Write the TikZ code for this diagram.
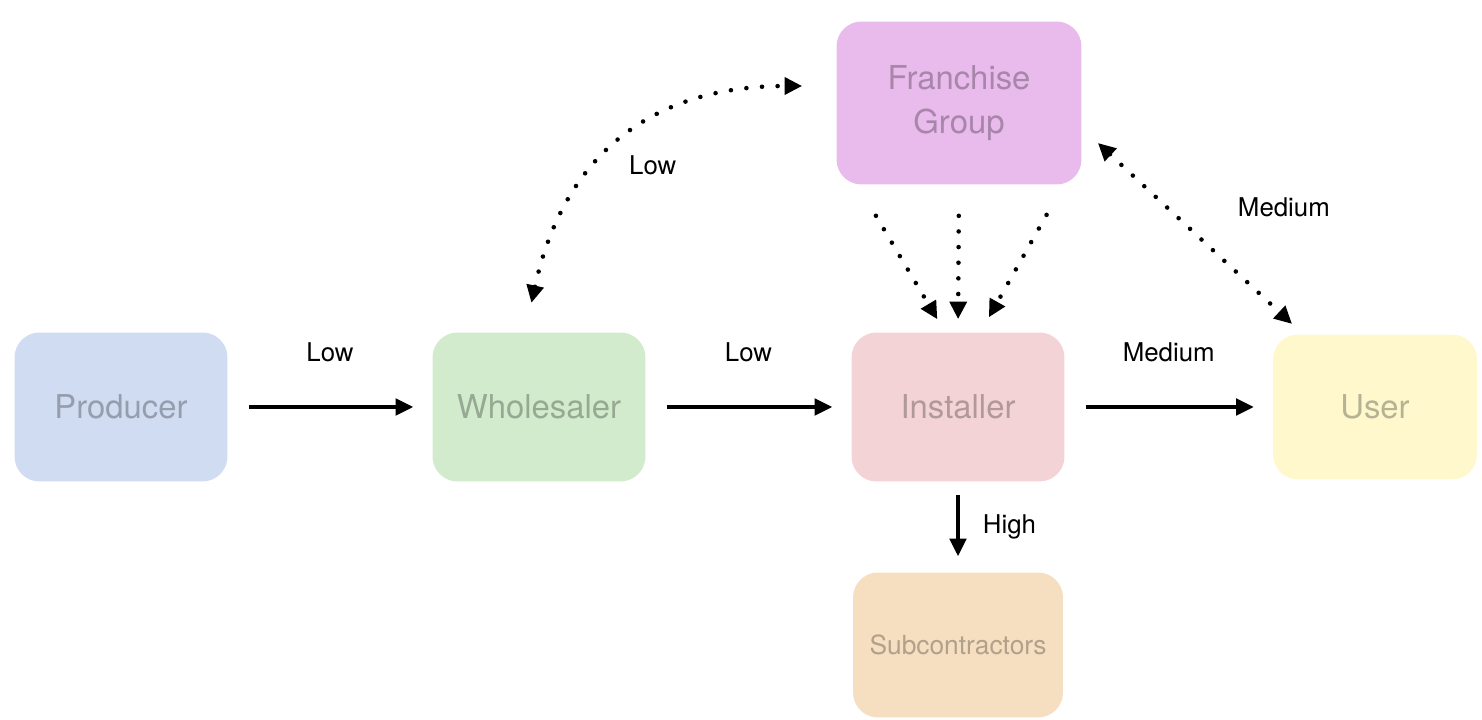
\documentclass[tikz,border=0pt]{standalone}
\usepackage{fontspec}
\setmainfont{TeX Gyre Heros}
\usetikzlibrary{arrows.meta}
\definecolor{prodblue}{HTML}{D0DCF2}
\definecolor{wholegreen}{HTML}{D2EBCD}
\definecolor{instpink}{HTML}{F4D3D7}
\definecolor{useryellow}{HTML}{FEF8CC}
\definecolor{franpurple}{HTML}{E9BAEC}
\definecolor{subpeach}{HTML}{F6DEC0}
\begin{document}
\begin{tikzpicture}[x=0.02cm, y=0.02cm, >={Triangle[length=10pt,width=9.5pt]},
  box/.style={rounded corners=0.5cm, inner sep=0pt, minimum width=4.26cm, minimum height=2.98cm,
    text=black, text opacity=0.28, align=center, font=\fontsize{18.7}{25}\selectfont},
  flow/.style={->, line width=1.8pt, shorten <=0.42cm, shorten >=0.38cm},
  dots/.style={line width=2.6pt, line cap=round, dash pattern=on 0pt off 8.9pt},
  lbl/.style={font=\fontsize{14.7}{17}\selectfont}]
\useasboundingbox (0,0) rectangle (1482,720);
\node[box, fill=prodblue] (prod) at (121,313) {Producer};
\node[box, fill=wholegreen] (whole) at (539,313) {Wholesaler};
\node[box, fill=instpink] (inst) at (958,313) {Installer};
\node[box, fill=useryellow, minimum width=4.08cm, minimum height=2.9cm] (user) at (1375,313) {User};
\node[box, fill=franpurple, minimum width=4.9cm, minimum height=3.26cm] (fran) at (959,617) {Franchise\\Group};
\node[box, fill=subpeach, minimum width=4.2cm, minimum height=2.9cm, font=\fontsize{15}{18}\selectfont] (sub) at (958,75) {Subcontractors};
\draw[flow] (prod) -- node[lbl, yshift=1.1cm] {Low} (whole);
\draw[flow] (whole) -- node[lbl, yshift=1.1cm] {Low} (inst);
\draw[flow] (inst) -- node[lbl, yshift=1.1cm] {Medium} (user);
\draw[flow, shorten <=0.26cm, shorten >=0.32cm] (inst) -- node[lbl, right=0.35cm] {High} (sub);
\draw[dots, ->, shorten <=0.72cm, shorten >=0.3cm] ([xshift=-2.03cm]fran.south) -- ([xshift=-0.26cm]inst.north);
\draw[dots, ->, shorten <=0.62cm, shorten >=0.26cm] (fran.south) -- (inst.north);
\draw[dots, ->, shorten <=0.69cm, shorten >=0.34cm] ([xshift=2.09cm]fran.south) -- ([xshift=0.45cm]inst.north);
\draw[dots, <->, shorten <=0.44cm, shorten >=0.3cm] ([yshift=-0.5cm]fran.east) -- node[lbl, xshift=1.83cm, yshift=0.47cm] {Medium} ([xshift=-1.44cm]user.north);
\draw[dots, <->, shorten <=0.6cm, shorten >=0.68cm] ([xshift=-0.28cm]whole.north) .. controls +(0.78cm,3.56cm) and +(-3.68cm,0) .. ([yshift=0.34cm]fran.west) node[lbl, pos=0.5, xshift=0.53cm, yshift=-0.45cm] {Low};
\end{tikzpicture}
\end{document}
